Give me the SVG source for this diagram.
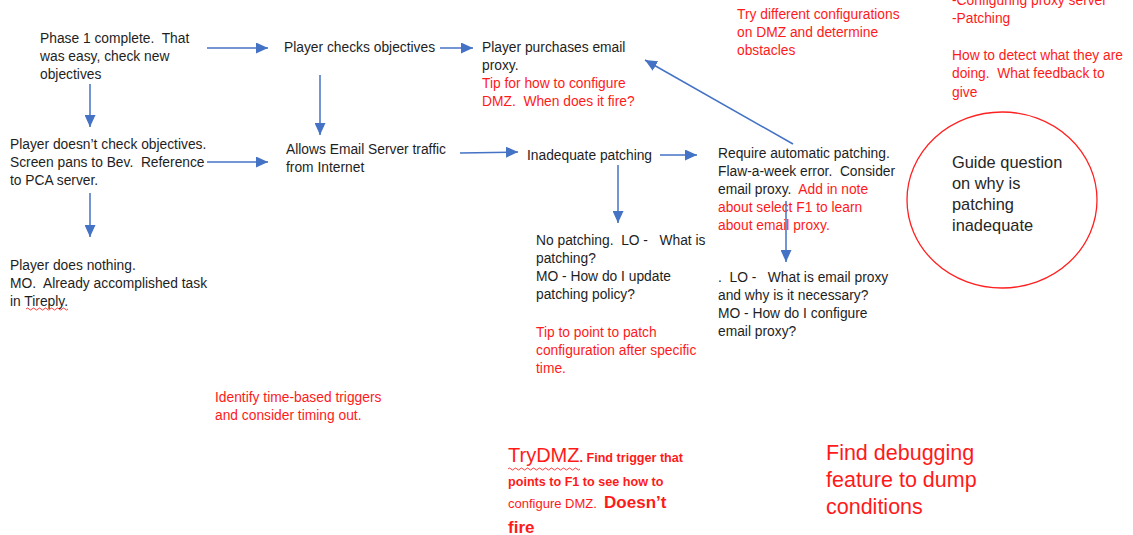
<svg xmlns="http://www.w3.org/2000/svg" width="1133" height="535" viewBox="0 0 1133 535">
  <style>
    text { font-family: "Liberation Sans", Arial, sans-serif; font-size: 13.8px; fill: #1e1e1e; white-space: pre; }
    .red { fill: #ff1a1a; }
    .big { font-size: 16.4px; fill: #262626; }
    .huge { font-size: 21.5px; fill: #ff1a1a; }
    .small { font-size: 12.6px; font-weight: bold; fill: #ff1a1a; }
    .edge { stroke: #4472c4; stroke-width: 1.5; fill: none; marker-end: url(#head); }
    .squiggle { stroke: #ff2a2a; stroke-width: 0.9; fill: none; }
  </style>
  <defs>
    <marker id="head" markerUnits="userSpaceOnUse" markerWidth="13" markerHeight="11" refX="12" refY="5.5" orient="auto">
      <path d="M0,0 L12,5.5 L0,11 z" fill="#4472c4"/>
    </marker>
  </defs>
  <rect width="1133" height="535" fill="#ffffff"/>

  <g id="phase1">
    <text x="40" y="43">Phase 1 complete.  That</text>
    <text x="40" y="61">was easy, check new</text>
    <text x="40" y="79">objectives</text>
  </g>

  <g id="checks-objectives">
    <text x="284" y="52">Player checks objectives</text>
  </g>

  <g id="purchases-proxy">
    <text x="482" y="52">Player purchases email</text>
    <text x="482" y="70">proxy.</text>
    <text x="482" y="88" class="red">Tip for how to configure</text>
    <text x="482" y="106" class="red">DMZ.  When does it fire?</text>
  </g>

  <g id="note-configurations">
    <text x="737" y="19" class="red">Try different configurations</text>
    <text x="737" y="37" class="red">on DMZ and determine</text>
    <text x="737" y="55" class="red">obstacles</text>
  </g>

  <g id="note-detect">
    <text x="952" y="5" class="red">-Configuring proxy server</text>
    <text x="952" y="23" class="red">-Patching</text>
    <text x="952" y="60" class="red">How to detect what they are</text>
    <text x="952" y="78" class="red">doing.  What feedback to</text>
    <text x="952" y="97" class="red">give</text>
  </g>

  <g id="no-check">
    <text x="10" y="149">Player doesn’t check objectives.</text>
    <text x="10" y="167">Screen pans to Bev.  Reference</text>
    <text x="10" y="185">to PCA server.</text>
  </g>

  <g id="email-traffic">
    <text x="286" y="154">Allows Email Server traffic</text>
    <text x="286" y="172">from Internet</text>
  </g>

  <g id="inadequate-patching">
    <text x="527" y="160">Inadequate patching</text>
  </g>

  <g id="automatic-patching">
    <text x="718" y="158">Require automatic patching.</text>
    <text x="718" y="176">Flaw-a-week error.  Consider</text>
    <text x="718" y="194">email proxy.  <tspan class="red">Add in note</tspan></text>
    <text x="718" y="212" class="red">about select F1 to learn</text>
    <text x="718" y="230" class="red">about email proxy.</text>
  </g>

  <g id="guide-question">
    <ellipse cx="1002" cy="200" rx="95" ry="88" fill="none" stroke="#ff2020" stroke-width="1.3"/>
    <text x="952" y="168" class="big">Guide question</text>
    <text x="952" y="189" class="big">on why is</text>
    <text x="952" y="210" class="big">patching</text>
    <text x="952" y="231" class="big">inadequate</text>
  </g>

  <g id="no-patching">
    <text x="536" y="245">No patching.  LO -   What is</text>
    <text x="536" y="263">patching?</text>
    <text x="536" y="281">MO - How do I update</text>
    <text x="536" y="299">patching policy?</text>
    <text x="536" y="337" class="red">Tip to point to patch</text>
    <text x="536" y="355" class="red">configuration after specific</text>
    <text x="536" y="373" class="red">time.</text>
  </g>

  <g id="email-proxy-lo">
    <text x="718" y="282">.  LO -   What is email proxy</text>
    <text x="718" y="300">and why is it necessary?</text>
    <text x="718" y="318">MO - How do I configure</text>
    <text x="718" y="336">email proxy?</text>
  </g>

  <g id="does-nothing">
    <text x="10" y="270">Player does nothing.</text>
    <text x="10" y="288">MO.  Already accomplished task</text>
    <text x="10" y="306">in Tireply.</text>
    <path class="squiggle" d="M26,309 q1.5,-2 3,0 t3,0 t3,0 t3,0 t3,0 t3,0 t3,0 t3,0 t3,0 t3,0 t3,0 t3,0 t3,0 t3,0"/>
  </g>

  <g id="note-timing">
    <text x="215" y="402" class="red">Identify time-based triggers</text>
    <text x="215" y="420" class="red">and consider timing out.</text>
  </g>

  <g id="note-trydmz">
    <text x="508" y="462"><tspan style="font-size:20px;fill:#ff1a1a">TryDMZ</tspan><tspan class="small">. Find trigger that</tspan></text>
    <text x="508" y="486" class="small">points to F1 to see how to</text>
    <text x="508" y="508"><tspan class="small" style="font-weight:normal;font-size:13px">configure DMZ.  </tspan><tspan style="font-size:17px;font-weight:bold;fill:#ff1a1a">Doesn’t</tspan></text>
    <text x="508" y="533" style="font-size:17px;font-weight:bold;fill:#ff1a1a">fire</text>
    <path class="squiggle" d="M508,469 q1.5,-2 3,0 t3,0 t3,0 t3,0 t3,0 t3,0 t3,0 t3,0 t3,0 t3,0 t3,0 t3,0 t3,0 t3,0 t3,0 t3,0 t3,0 t3,0 t3,0 t3,0 t3,0 t3,0 t3,0 t3,0"/>
  </g>

  <g id="note-debugging">
    <text x="826" y="460" class="huge">Find debugging</text>
    <text x="826" y="487" class="huge">feature to dump</text>
    <text x="826" y="514" class="huge">conditions</text>
  </g>

  <g id="connectors">
    <line class="edge" x1="207" y1="48" x2="268" y2="48"/>
    <line class="edge" x1="440" y1="48" x2="473" y2="48"/>
    <line class="edge" x1="90" y1="84" x2="90" y2="127"/>
    <line class="edge" x1="320" y1="75" x2="320" y2="135"/>
    <line class="edge" x1="207" y1="162" x2="268" y2="162"/>
    <line class="edge" x1="460" y1="153" x2="518" y2="152"/>
    <line class="edge" x1="660" y1="155" x2="697" y2="155"/>
    <line class="edge" x1="618" y1="165" x2="618" y2="223"/>
    <line class="edge" x1="793" y1="144" x2="645" y2="60"/>
    <line class="edge" x1="786" y1="201" x2="786" y2="262"/>
    <line class="edge" x1="90" y1="193" x2="90" y2="237"/>
  </g>
</svg>
